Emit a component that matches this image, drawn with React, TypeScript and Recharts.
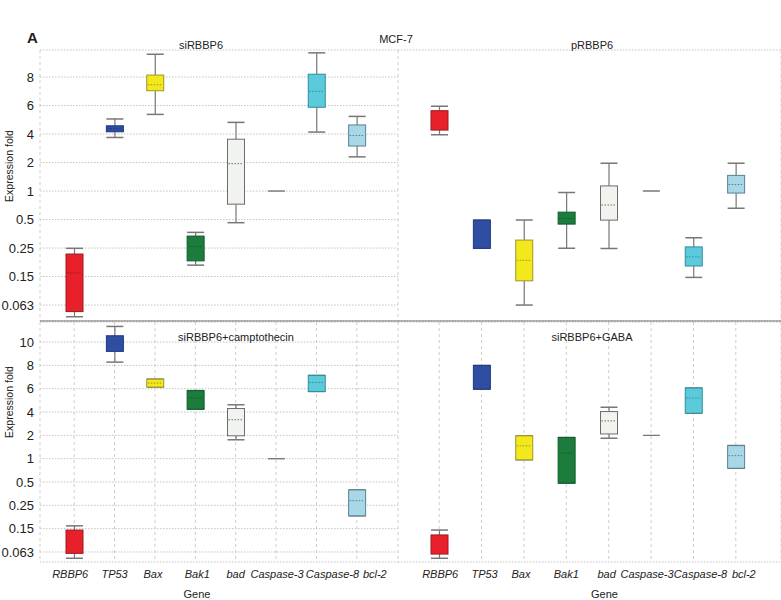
import React from 'react';
import { ComposedChart, Bar, XAxis, YAxis, CartesianGrid } from 'recharts';

// genes along the x axis
const genes = ['RBBP6', 'TP53', 'Bax', 'Bak1', 'bad', 'Caspase-3', 'Caspase-8', 'bcl-2'];
const geneFills = ['#e8202a', '#2f4ea2', '#f3e81c', '#1b7c3c', '#f1f4ee', '#9a9a9a', '#5ccadb', '#a8d7e7'];
const geneStrokes = ['#9c1a1e', '#1f3580', '#9c9628', '#0f5a2a', '#6c6c6c', '#7a7a7a', '#2f8d9c', '#56828f'];

// the y axis ticks are evenly spaced, so the values below are in tick steps (0 = 0.063, 1 = 0.15 ...)
const topTicks = ['0.063', '0.15', '0.25', '0.5', '1', '2', '4', '6', '8'];
const bottomTicks = ['0.063', '0.15', '0.25', '0.5', '1', '2', '4', '6', '8', '10'];

// [low whisker, q1, median, q3, high whisker], median null when not shown
const siRBBP6 = [
  [-0.41, -0.23, 1.13, 1.79, 1.99],
  [5.88, 6.08, 6.19, 6.29, 6.53],
  [6.69, 7.52, 7.73, 8.07, 8.8],
  [1.4, 1.55, 2.05, 2.42, 2.55],
  [2.89, 3.54, 4.96, 5.82, 6.41],
  [4, 4, 4, 4, 4],
  [6.07, 6.94, 7.5, 8.1, 8.85],
  [5.2, 5.58, 5.95, 6.32, 6.62],
];
const pRBBP6 = [
  [5.98, 6.14, null, 6.82, 6.98],
  [1.99, 1.99, null, 2.98, 2.98],
  [0, 0.85, 1.57, 2.28, 2.98],
  [1.99, 2.84, 3.04, 3.26, 3.95],
  [1.98, 2.98, 3.51, 4.18, 4.98],
  [4, 4, 4, 4, 4],
  [0.97, 1.37, 1.69, 2.04, 2.36],
  [3.4, 3.93, 4.23, 4.55, 4.98],
];
const camptothecin = [
  [-0.27, -0.06, null, 0.94, 1.12],
  [8.14, 8.6, null, 9.27, 9.67],
  [7.07, 7.07, 7.24, 7.41, 7.41],
  [6.12, 6.12, 6.6, 6.92, 6.92],
  [4.81, 4.98, 5.67, 6.15, 6.31],
  [4, 4, 4, 4, 4],
  [6.88, 6.88, 7.27, 7.57, 7.57],
  [1.55, 1.55, 2.2, 2.66, 2.66],
];
const gaba = [
  [-0.27, -0.09, null, 0.73, 0.94],
  [6.98, 6.98, null, 8.0, 8.0],
  [3.95, 3.95, 4.55, 4.98, 4.98],
  [2.95, 2.95, 4.24, 4.91, 4.91],
  [4.88, 5.06, 5.62, 6.02, 6.21],
  [5, 5, 5, 5, 5],
  [5.95, 5.95, 6.6, 7.03, 7.03],
  [3.59, 3.59, 4.13, 4.56, 4.56],
];

const font = '"Liberation Sans", Arial, sans-serif';

// gene labels are nudged sideways where they would collide
const leftLabelShift = [-4, 0, -2, 2, 0, 1, 16, 18];
const rightLabelShift = [1, 3, -3, 0, -2, -4, 7, 8];

const toRows = (boxes: (number | null)[][]) =>
  genes.map((gene, i) => {
    const [lo, q1, med, q3, hi] = boxes[i];
    return { gene, lo, q1, med, q3, hi, fill: geneFills[i], stroke: geneStrokes[i] };
  });

const BoxShape = (props: any) => {
  const { x, y, width, height, payload } = props;
  const { lo, q1, med, q3, hi, fill, stroke } = payload;
  const top = Math.min(y, y + height);
  const h = Math.abs(height);
  const cx = x + width / 2;
  if (hi === lo) {
    return <line x1={x} x2={x + width} y1={top} y2={top} stroke="#777" strokeWidth={1.4} />;
  }
  const py = (v: number) => top + ((hi - v) / (hi - lo)) * h;
  return (
    <g>
      <line x1={cx} x2={cx} y1={py(hi)} y2={py(q3)} stroke="#777" strokeWidth={1.2} />
      <line x1={cx} x2={cx} y1={py(q1)} y2={py(lo)} stroke="#777" strokeWidth={1.2} />
      <line x1={x} x2={x + width} y1={py(hi)} y2={py(hi)} stroke="#777" strokeWidth={1.5} />
      <line x1={x} x2={x + width} y1={py(lo)} y2={py(lo)} stroke="#777" strokeWidth={1.5} />
      <rect x={x} y={py(q3)} width={width} height={py(q1) - py(q3)} fill={fill} stroke={stroke} strokeWidth={1} />
      {med !== null && (
        <line x1={x + 1} x2={x + width - 1} y1={py(med)} y2={py(med)} stroke={stroke} strokeWidth={1} strokeDasharray="1.5 1.5" />
      )}
    </g>
  );
};

const makeGeneTick = (shift: number[]) => (props: any) => {
  const { x, y, payload } = props;
  const i = genes.indexOf(payload.value);
  return (
    <text x={x + (shift[i] || 0)} y={y} dy="0.71em" textAnchor="middle" fontSize={11} fontStyle="italic" fill="#222" fontFamily={font}>
      {payload.value}
    </text>
  );
};

interface PanelProps {
  boxes: (number | null)[][];
  ticks: string[];
  domain: [number, number];
  left: number;
  top: number;
  width: number;
  height: number;
  marginTop: number;
  yWidth: number;
  xHeight: number;
  pad: { left: number; right: number };
  bottomLabels: boolean;
  labelShift: number[];
  geneDx: number;
}

const Panel: React.FC<PanelProps> = ({ boxes, ticks, domain, left, top, width, height, marginTop, yWidth, xHeight, pad, bottomLabels, labelShift, geneDx }) => {
  const data = toRows(boxes);
  const tickIdx = ticks.map((_, i) => i);
  return (
    <div style={{ position: 'absolute', left, top }}>
      <ComposedChart width={width} height={height} data={data} margin={{ top: marginTop, right: 0, bottom: 0, left: 0 }}>
        <CartesianGrid horizontal={true} vertical={false} stroke="#c4c4c4" strokeDasharray="1.5 1.5" />
        <CartesianGrid horizontal={false} vertical={true} stroke="#cdcdcd" strokeDasharray="3 3" />
        <XAxis
          dataKey="gene"
          type="category"
          padding={pad}
          height={xHeight}
          axisLine={bottomLabels ? false : { stroke: '#6e6e6e', strokeWidth: 1.2 }}
          tickLine={false}
          tick={bottomLabels ? makeGeneTick(labelShift) : false}
          interval={0}
          label={bottomLabels ? { value: 'Gene', position: 'insideBottom', offset: 2, dx: geneDx, fontSize: 11, fill: '#222', fontFamily: font } : undefined}
        />
        <YAxis
          type="number"
          domain={domain}
          allowDataOverflow
          ticks={tickIdx}
          width={yWidth}
          tickSize={4}
          tickLine={false}
          axisLine={yWidth === 0 ? { stroke: '#6e6e6e', strokeWidth: 1.2 } : false}
          tick={yWidth === 0 ? false : { fontSize: 13, fill: '#222', fontFamily: font }}
          tickFormatter={(v: number) => ticks[v]}
        />
        <Bar dataKey={(d: any) => [d.lo, d.hi]} barSize={17} shape={BoxShape} isAnimationActive={false} />
      </ComposedChart>
    </div>
  );
};

export default function App() {
  return (
    <div style={{ position: 'absolute', left: 0, top: 0, width: 781, height: 600, background: '#fff', fontFamily: font }}>
      <Panel boxes={siRBBP6} ticks={topTicks} domain={[-0.56, 8.95]} left={0} top={0} width={398} height={330}
        marginTop={50} yWidth={40} xHeight={9} pad={{ left: 14, right: 21 }} bottomLabels={false} labelShift={leftLabelShift} geneDx={0} />
      <Panel boxes={pRBBP6} ticks={topTicks} domain={[-0.56, 8.95]} left={398} top={0} width={383} height={330}
        marginTop={50} yWidth={0} xHeight={9} pad={{ left: 20, right: 24 }} bottomLabels={false} labelShift={rightLabelShift} geneDx={0} />
      <Panel boxes={camptothecin} ticks={bottomTicks} domain={[-0.43, 9.86]} left={0} top={322} width={398} height={278}
        marginTop={0} yWidth={40} xHeight={38} pad={{ left: 14, right: 21 }} bottomLabels={true} labelShift={leftLabelShift} geneDx={-22} />
      <Panel boxes={gaba} ticks={bottomTicks} domain={[-0.43, 9.86]} left={398} top={322} width={383} height={278}
        marginTop={0} yWidth={0} xHeight={38} pad={{ left: 20, right: 24 }} bottomLabels={true} labelShift={rightLabelShift} geneDx={15} />
      <svg width={781} height={600} style={{ position: 'absolute', left: 0, top: 0, pointerEvents: 'none' }} fontFamily={font} fill="#222">
        <text x={27} y={43} fontSize={15} fontWeight="bold">A</text>
        <text x={396} y={43} fontSize={11} textAnchor="middle">MCF-7</text>
        <text x={201} y={49} fontSize={11} textAnchor="middle">siRBBP6</text>
        <text x={592} y={49} fontSize={11} textAnchor="middle">pRBBP6</text>
        <text x={236} y={341} fontSize={11} textAnchor="middle">siRBBP6+camptothecin</text>
        <text x={592} y={341} fontSize={11} textAnchor="middle">siRBBP6+GABA</text>
        <text x={13} y={166} fontSize={10.5} textAnchor="middle" transform="rotate(-90 13 166)">Expression fold</text>
        <text x={13} y={402} fontSize={10.5} textAnchor="middle" transform="rotate(-90 13 402)">Expression fold</text>
      </svg>
    </div>
  );
}
